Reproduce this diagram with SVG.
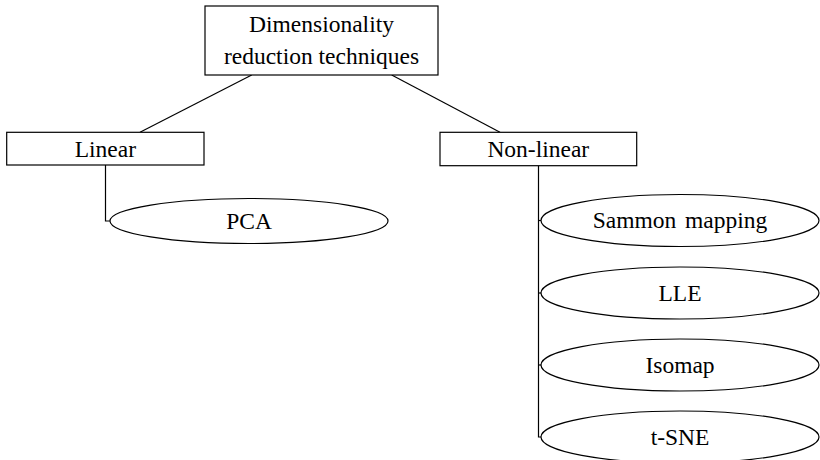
<svg xmlns="http://www.w3.org/2000/svg" width="820" height="460" viewBox="0 0 820 460">
<style>
.box{fill:#fff;stroke:#000;stroke-width:1.2}
.ell{fill:#fff;stroke:#000;stroke-width:1.2}
.ln{fill:none;stroke:#000;stroke-width:1.2}
text{font-family:"Liberation Serif","Times New Roman",serif;font-size:23.5px;fill:#000;text-anchor:middle}
</style>
<rect width="820" height="460" fill="#fff"/>
<g id="connectors">
<line class="ln" x1="251.7" y1="75" x2="140" y2="132.3"/>
<line class="ln" x1="391.7" y1="75" x2="500" y2="132.3"/>
<polyline class="ln" points="105.5,165 105.5,221 110,221"/>
<polyline class="ln" points="538.5,165.7 538.5,437 541,437"/>
<line class="ln" x1="538.5" y1="220.5" x2="541" y2="220.5"/>
<line class="ln" x1="538.5" y1="293" x2="541" y2="293"/>
<line class="ln" x1="538.5" y1="365" x2="541" y2="365"/>
</g>
<g id="root">
<rect class="box" x="205" y="6" width="233" height="69"/>
<text x="321.5" y="32.3">Dimensionality</text>
<text x="321.5" y="63.5">reduction techniques</text>
</g>
<g id="linear">
<rect class="box" x="6.7" y="132.3" width="197.3" height="32.7"/>
<text x="105.4" y="156.7">Linear</text>
</g>
<g id="nonlinear">
<rect class="box" x="440" y="132.3" width="196.7" height="33.4"/>
<text x="538.3" y="157.3">Non-linear</text>
</g>
<g id="pca">
<ellipse class="ell" cx="249" cy="221" rx="139" ry="22.5"/>
<text x="249" y="229.2">PCA</text>
</g>
<g id="sammon">
<ellipse class="ell" cx="680" cy="220.5" rx="139" ry="26"/>
<text x="680" y="228" word-spacing="3">Sammon mapping</text>
</g>
<g id="lle">
<ellipse class="ell" cx="680" cy="293" rx="139" ry="26"/>
<text x="680" y="300.8">LLE</text>
</g>
<g id="isomap">
<ellipse class="ell" cx="680" cy="365" rx="139" ry="26"/>
<text x="680" y="372.8">Isomap</text>
</g>
<g id="tsne">
<ellipse class="ell" cx="680" cy="437" rx="139" ry="26"/>
<text x="680" y="444.8">t-SNE</text>
</g>
</svg>
